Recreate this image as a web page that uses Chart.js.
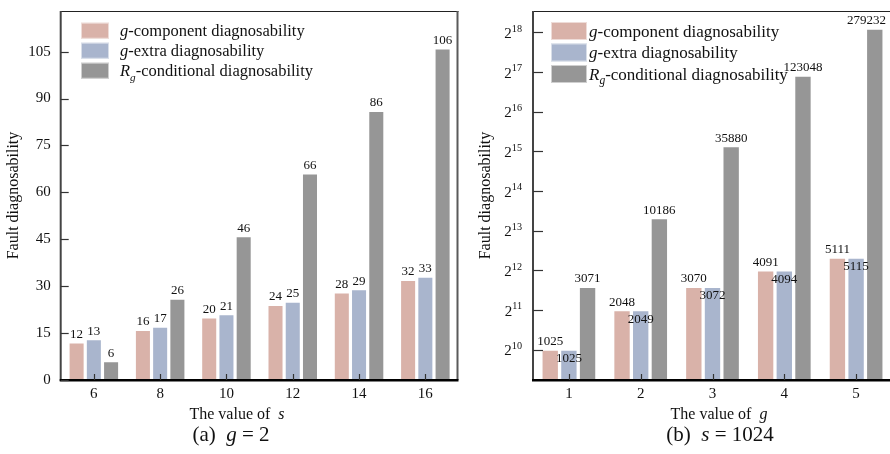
<!DOCTYPE html>
<html>
<head>
<meta charset="utf-8">
<script src="https://cdn.jsdelivr.net/npm/chart.js@4"></script>
<style>
  html, body { margin:0; padding:0; background:#fff; width:890px; height:454px; overflow:hidden; }
  #wrap { position:relative; width:890px; height:454px; overflow:hidden; }
  canvas { position:absolute; top:0; }
  #chartA { left:0; }
  #chartB { left:460px; }
</style>
</head>
<body>
<div id="wrap">
  <canvas id="chartA" width="470" height="454"></canvas>
  <canvas id="chartB" width="440" height="454"></canvas>
</div>
<script>
// ---------- Data ----------
// (a) g = 2
const sValues = ['6', '8', '10', '12', '14', '16'];
const compA   = [12, 16, 20, 24, 28, 32];
const extraA  = [13, 17, 21, 25, 29, 33];
const condA   = [6, 26, 46, 66, 86, 106];
const ticksA  = [0, 15, 30, 45, 60, 75, 90, 105];

// (b) s = 1024
const gValues = ['1', '2', '3', '4', '5'];
const compB   = [1025, 2048, 3070, 4091, 5111];
const extraB  = [1025, 2049, 3072, 4094, 5115];
const condB   = [3071, 10186, 35880, 123048, 279232];
const expB    = [10, 11, 12, 13, 14, 15, 16, 17, 18];

// legend text pieces: i = italic, sub = subscript
const seriesNames = [
  [{ t:'g', i:true }, { t:'-component diagnosability' }],
  [{ t:'g', i:true }, { t:'-extra diagnosability' }],
  [{ t:'R', i:true }, { t:'g', i:true, sub:true }, { t:'-conditional diagnosability' }]
];

// ---------- Styles ----------
const FONT = '"Liberation Serif", "Times New Roman", serif';
const cPink = '#d9b2a9';
const cBlue = '#a9b5cd';
const cGray = '#969696';
const edge  = 'rgba(255,255,255,0.55)';
const ink   = '#111';

Chart.defaults.font.family = FONT;
Chart.defaults.color = ink;

// ---------- Helpers ----------
function drawRich(ctx, segs, x, y, size, align){
  // y is the baseline
  let w = 0;
  const parts = segs.map(s => {
    const fs = s.sub || s.sup ? size * 0.68 : size;
    const f = (s.i ? 'italic ' : '') + fs + 'px ' + FONT;
    ctx.font = f;
    const pw = ctx.measureText(s.t).width;
    w += pw;
    return { s, f, pw };
  });
  let cx = align === 'center' ? x - w / 2 : (align === 'right' ? x - w : x);
  ctx.textAlign = 'left';
  ctx.textBaseline = 'alphabetic';
  for (const p of parts){
    ctx.font = p.f;
    let dy = 0;
    if (p.s.sub) dy = size * 0.28;
    if (p.s.sup) dy = -size * 0.42;
    ctx.fillText(p.s.t, cx, y + dy);
    cx += p.pw;
  }
}

function barDatasets(a, b, c){
  const common = { borderWidth: 1, borderColor: edge, borderSkipped: false,
                   categoryPercentage: 0.78, barPercentage: 0.93 };
  return [
    Object.assign({ label: 'g-component diagnosability', data: a, backgroundColor: cPink }, common),
    Object.assign({ label: 'g-extra diagnosability', data: b, backgroundColor: cBlue }, common),
    Object.assign({ label: 'Rg-conditional diagnosability', data: c, backgroundColor: cGray }, common)
  ];
}

function noPad(s){ s.paddingTop = 0; s.paddingBottom = 0; s.paddingLeft = 0; s.paddingRight = 0; }

// decorations: frame, axes, inward ticks, legend, value labels, axis titles
function decor(cfg){
  return {
    id: 'decor',
    afterDraw(chart){
      const ctx = chart.ctx;
      const ca = chart.chartArea;
      const xs = chart.scales.x, ys = chart.scales.y;
      ctx.save();

      // frame top + right
      ctx.strokeStyle = '#222'; ctx.lineWidth = 1;
      ctx.beginPath(); ctx.moveTo(ca.left, ca.top + 0.5); ctx.lineTo(ca.right, ca.top + 0.5); ctx.stroke();
      ctx.strokeStyle = '#5a5a5a'; ctx.lineWidth = 2;
      ctx.beginPath(); ctx.moveTo(ca.right - 1, ca.top); ctx.lineTo(ca.right - 1, ca.bottom); ctx.stroke();

      // left + bottom axis lines
      ctx.strokeStyle = '#444'; ctx.lineWidth = 2;
      ctx.beginPath(); ctx.moveTo(ca.left, ca.top); ctx.lineTo(ca.left, ca.bottom + 1); ctx.stroke();
      ctx.strokeStyle = '#000'; ctx.lineWidth = 2.5;
      ctx.beginPath(); ctx.moveTo(ca.left - 1, ca.bottom + 0.3); ctx.lineTo(ca.right, ca.bottom + 0.3); ctx.stroke();

      // inward tick marks
      ctx.strokeStyle = '#333'; ctx.lineWidth = 1.2;
      for (const v of cfg.yTicks){
        const y = Math.round(ys.getPixelForValue(v)) + 0.5;
        ctx.beginPath(); ctx.moveTo(ca.left, y); ctx.lineTo(ca.left + cfg.yTickLen, y); ctx.stroke();
      }
      chart.data.labels.forEach((_, i) => {
        const x = Math.round(xs.getPixelForValue(i)) + 0.5;
        ctx.beginPath(); ctx.moveTo(x, ca.bottom); ctx.lineTo(x, ca.bottom - 6); ctx.stroke();
      });

      // custom y tick labels (powers of two)
      if (cfg.powLabels){
        ctx.fillStyle = ink;
        for (const n of expB){
          const y = ys.getPixelForValue(2 ** n);
          drawRich(ctx, [{ t:'2' }, { t:String(n), sup:true }], ca.left - 11, y + 5.5, 15, 'right');
        }
      }

      // value labels
      ctx.font = '13px ' + FONT;
      ctx.fillStyle = ink;
      ctx.textAlign = 'center';
      ctx.textBaseline = 'middle';
      chart.data.datasets.forEach((ds, di) => {
        const meta = chart.getDatasetMeta(di);
        meta.data.forEach((bar, i) => {
          const txt = String(ds.data[i]);
          const inside = cfg.inside && cfg.inside[di];
          const y = inside ? bar.y + 9 : bar.y - 8;
          const half = ctx.measureText(txt).width / 2;
          const x = Math.min(bar.x, ca.right - 6 - half);
          ctx.fillText(txt, x, y);
        });
      });

      // legend
      const L = cfg.legend;
      const colors = [cPink, cBlue, cGray];
      L.rows.forEach((cy, k) => {
        ctx.fillStyle = colors[k];
        ctx.fillRect(L.boxX, cy - L.boxH / 2, L.boxW, L.boxH);
        ctx.strokeStyle = edge; ctx.lineWidth = 1;
        ctx.strokeRect(L.boxX + 0.5, cy - L.boxH / 2 + 0.5, L.boxW - 1, L.boxH - 1);
        ctx.fillStyle = ink;
        drawRich(ctx, seriesNames[k], L.textX, cy + L.size * 0.33, L.size, 'left');
      });

      // y axis title
      ctx.save();
      ctx.translate(cfg.yTitleX, (ca.top + ca.bottom) / 2);
      ctx.rotate(-Math.PI / 2);
      ctx.font = '16px ' + FONT;
      ctx.fillStyle = ink;
      ctx.textAlign = 'center';
      ctx.textBaseline = 'middle';
      ctx.fillText('Fault diagnosability', 0, 0);
      ctx.restore();

      // x axis title + caption
      ctx.fillStyle = ink;
      drawRich(ctx, cfg.xTitle, cfg.xTitleX, 418.5, 16, 'center');
      drawRich(ctx, cfg.caption, cfg.captionX, 441, 21, 'center');

      ctx.restore();
    }
  };
}

const tickFont = { family: FONT, size: 15 };

// ---------- Chart (a) ----------
new Chart(document.getElementById('chartA'), {
  type: 'bar',
  data: { labels: sValues, datasets: barDatasets(compA, extraA, condA) },
  options: {
    responsive: false, animation: false, devicePixelRatio: 1,
    layout: { padding: { left: 0, top: 11, right: 11.5, bottom: 0 } },
    plugins: { legend: { display: false }, tooltip: { enabled: false } },
    scales: {
      x: {
        grid: { display: false, drawTicks: false },
        border: { display: false },
        ticks: { padding: 5, color: ink, font: tickFont },
        afterFit: s => { s.height = 74; noPad(s); }
      },
      y: {
        min: 0, max: 118,
        afterBuildTicks: s => { s.ticks = ticksA.map(v => ({ value: v })); },
        grid: { display: false, drawTicks: false },
        border: { display: false },
        ticks: { padding: 10, color: ink, font: tickFont },
        afterFit: s => { s.width = 60.7; noPad(s); }
      }
    }
  },
  plugins: [decor({
    yTicks: ticksA, yTickLen: 8,
    legend: { boxX: 81, boxW: 28, boxH: 16, textX: 120, rows: [30.7, 50.7, 70.7], size: 16.5 },
    yTitleX: 13.5,
    xTitle: [{ t:'The value of  ' }, { t:'s', i:true }], xTitleX: 237,
    caption: [{ t:'(a)  ' }, { t:'g', i:true }, { t:' = 2' }], captionX: 231
  })]
});

// ---------- Chart (b) ----------
new Chart(document.getElementById('chartB'), {
  type: 'bar',
  data: { labels: gValues, datasets: barDatasets(compB, extraB, condB) },
  options: {
    responsive: false, animation: false, devicePixelRatio: 1,
    layout: { padding: { left: 0, top: 11, right: 8, bottom: 0 } },
    plugins: { legend: { display: false }, tooltip: { enabled: false } },
    scales: {
      x: {
        grid: { display: false, drawTicks: false },
        border: { display: false },
        ticks: { padding: 5, color: ink, font: tickFont },
        afterFit: s => { s.height = 74; noPad(s); }
      },
      y: {
        type: 'logarithmic',
        min: 2 ** 9.24, max: 2 ** 18.54,
        afterBuildTicks: s => { s.ticks = expB.map(n => ({ value: 2 ** n })); },
        grid: { display: false, drawTicks: false },
        border: { display: false },
        ticks: { display: false },
        afterFit: s => { s.width = 73; noPad(s); }
      }
    }
  },
  plugins: [decor({
    yTicks: expB.map(n => 2 ** n), yTickLen: 10, powLabels: true,
    inside: [false, true, false],
    legend: { boxX: 91, boxW: 36, boxH: 18, textX: 129, rows: [31, 52.5, 74], size: 17 },
    yTitleX: 26,
    xTitle: [{ t:'The value of  ' }, { t:'g', i:true }], xTitleX: 259,
    caption: [{ t:'(b)  ' }, { t:'s', i:true }, { t:' = 1024' }], captionX: 260
  })]
});
</script>
</body>
</html>
